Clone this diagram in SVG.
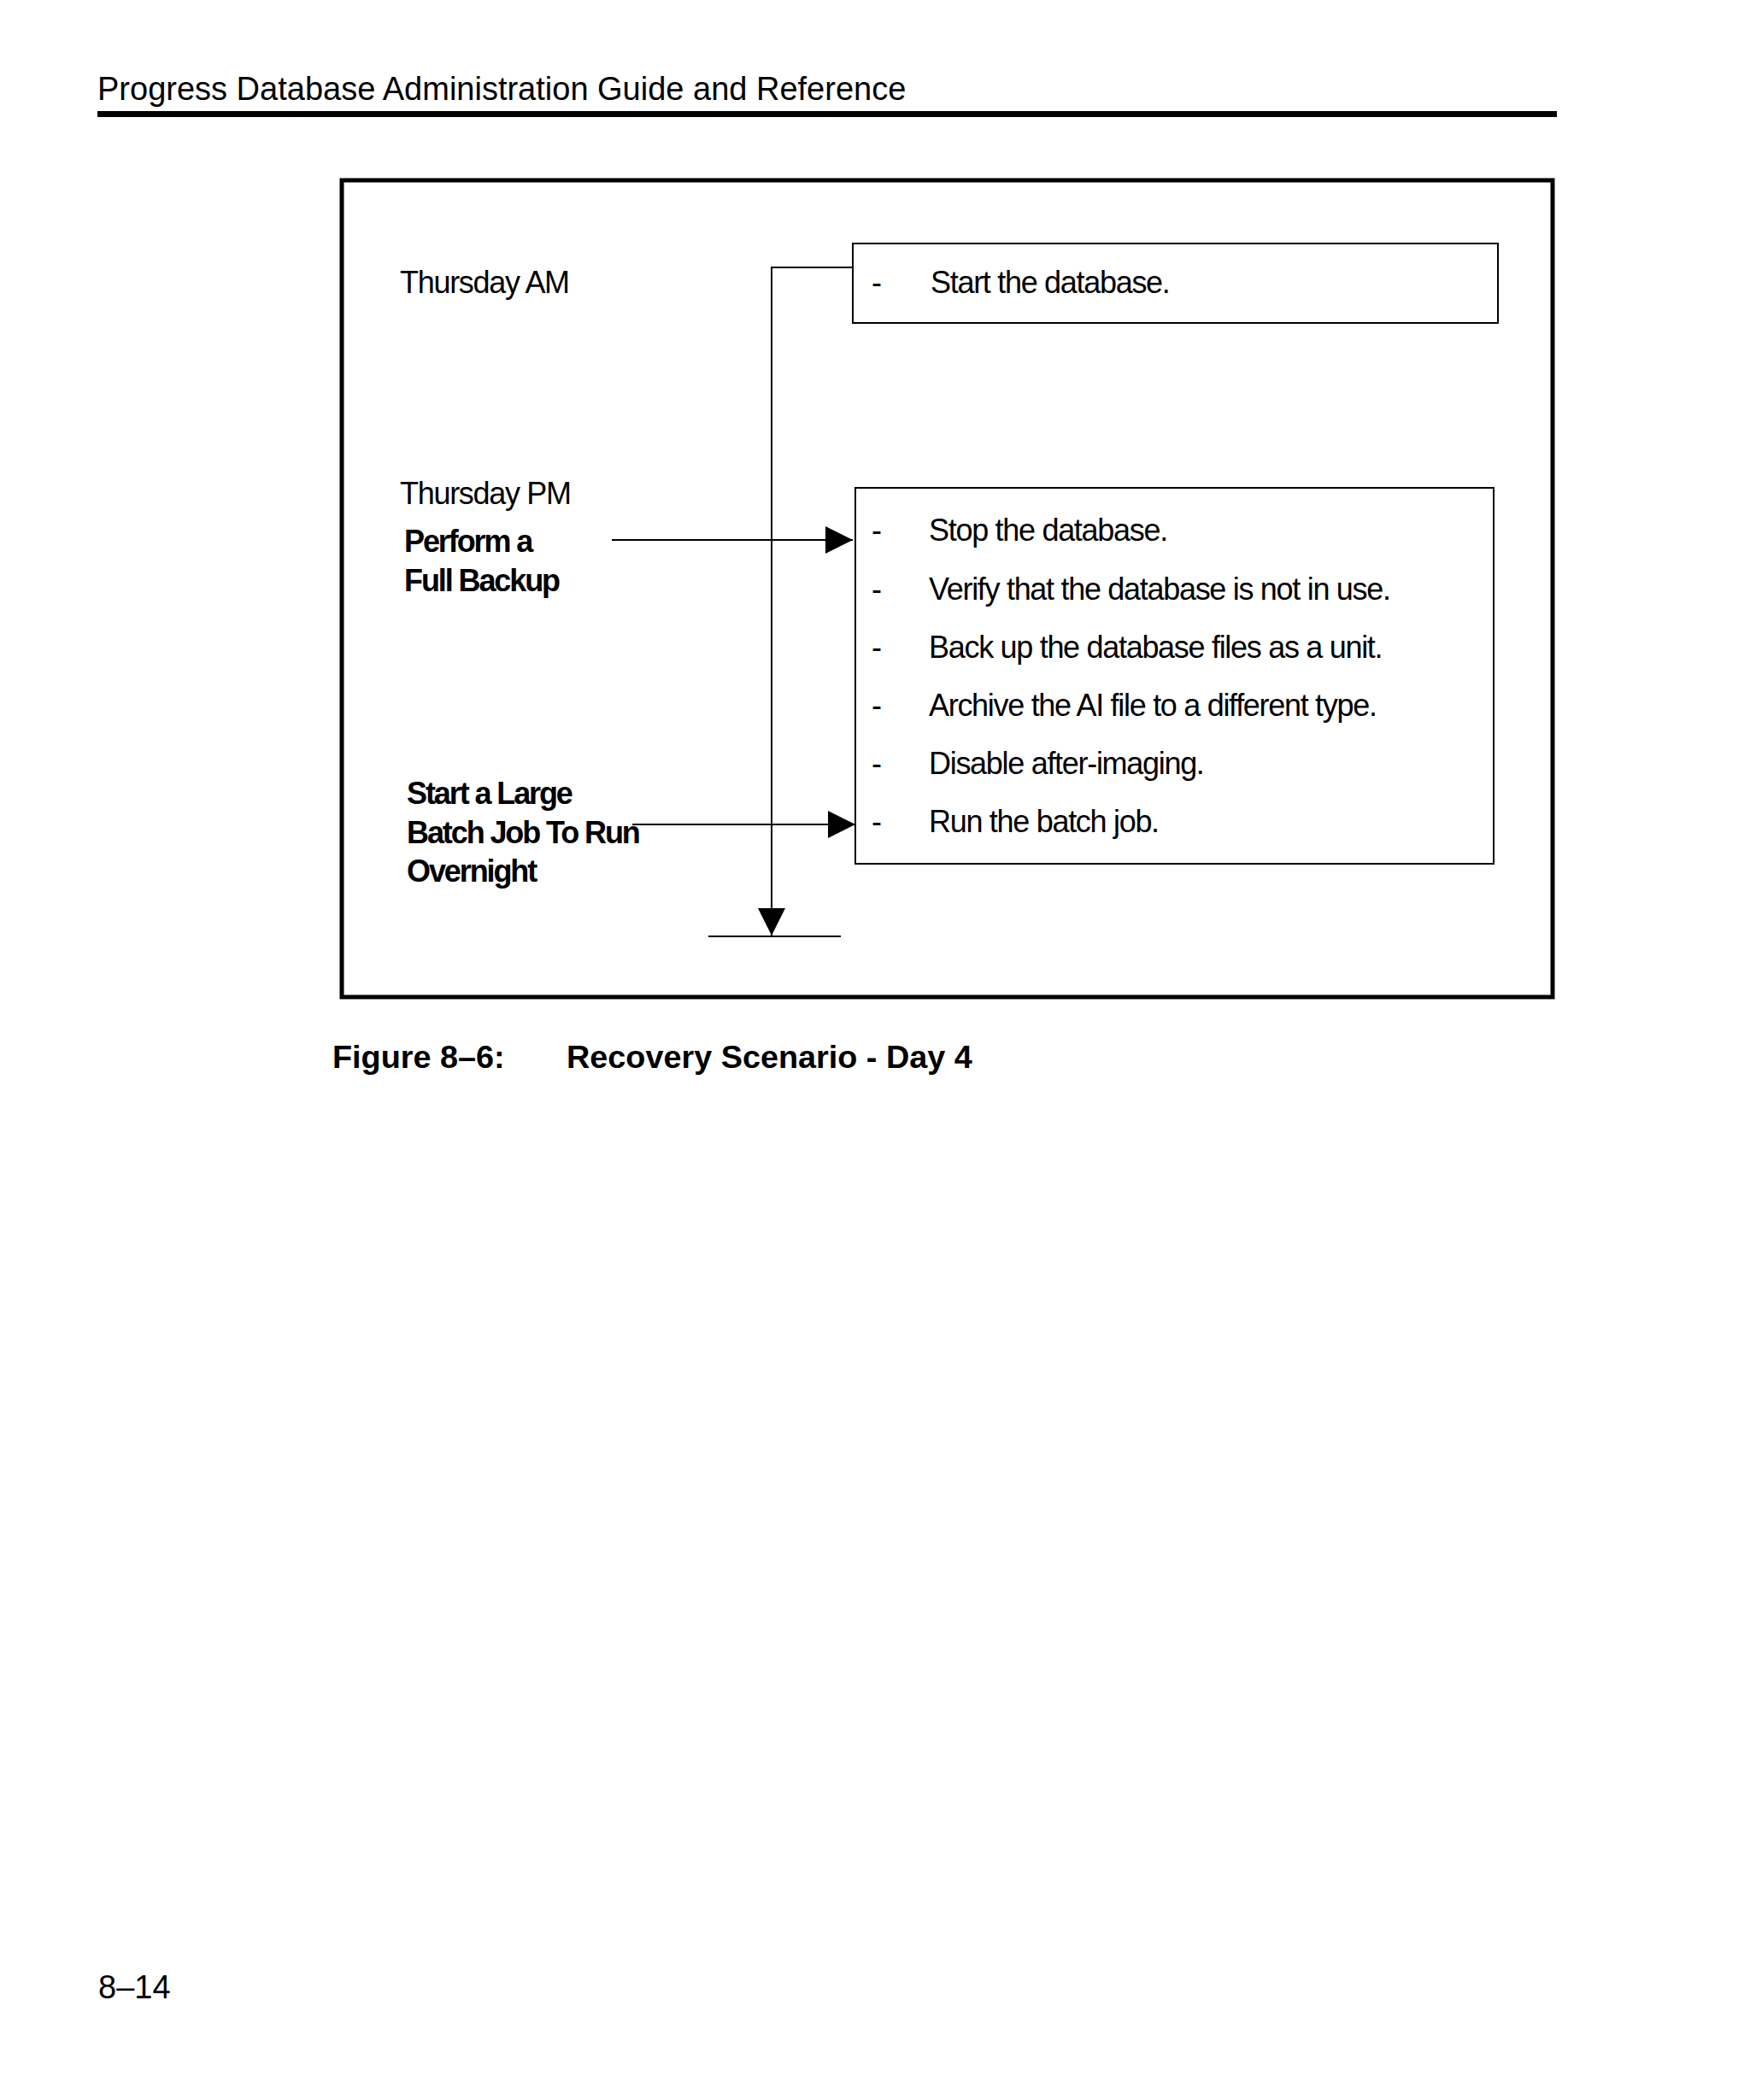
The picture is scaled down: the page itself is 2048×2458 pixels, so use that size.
<svg xmlns="http://www.w3.org/2000/svg" width="2048" height="2458" viewBox="0 0 2048 2458">
<style>
  .hdr{font-family:"Liberation Sans",Arial,sans-serif;font-size:38px;fill:#000}
  .cap{font-family:"Liberation Sans",Arial,sans-serif;font-size:37.8px;font-weight:bold;fill:#000}
  .lbl{font-family:"Liberation Sans",Arial,sans-serif;font-size:36px;letter-spacing:-1.3px;fill:#000}
  .blbl{font-family:"Liberation Sans",Arial,sans-serif;font-size:36px;font-weight:bold;letter-spacing:-2.1px;fill:#000}
  .box{fill:none;stroke:#000;stroke-width:2}
  .con{fill:none;stroke:#000;stroke-width:2}
</style>
<defs>
  <marker id="arr" markerUnits="userSpaceOnUse" markerWidth="34" markerHeight="34" refX="32" refY="16" orient="auto">
    <path d="M0,0 L32,16 L0,32 z" fill="#000"/>
  </marker>
</defs>
<rect width="2048" height="2458" fill="#fff"/>
<g id="header">
  <text class="hdr" x="114" y="117">Progress Database Administration Guide and Reference</text>
  <rect x="114" y="130" width="1708" height="7" fill="#000"/>
</g>
<g id="frame">
  <rect x="400" y="211" width="1417" height="956" fill="none" stroke="#000" stroke-width="5"/>
</g>
<g id="labels">
  <text class="lbl" x="468" y="343">Thursday AM</text>
  <text class="lbl" x="468" y="590">Thursday PM</text>
  <text class="blbl" x="473" y="646">Perform a</text>
  <text class="blbl" x="473" y="692">Full Backup</text>
  <text class="blbl" x="476" y="941">Start a Large</text>
  <text class="blbl" x="476" y="987">Batch Job To Run</text>
  <text class="blbl" x="476" y="1032">Overnight</text>
</g>
<g id="box-am">
  <rect class="box" x="998" y="285" width="755" height="93"/>
  <text class="lbl" x="1020" y="343">-</text>
  <text class="lbl" x="1089" y="343">Start the database.</text>
</g>
<g id="box-pm">
  <rect class="box" x="1001" y="571" width="747" height="440"/>
  <text class="lbl" x="1020" y="633">-</text>
  <text class="lbl" x="1087" y="633">Stop the database.</text>
  <text class="lbl" x="1020" y="702">-</text>
  <text class="lbl" x="1087" y="702">Verify that the database is not in use.</text>
  <text class="lbl" x="1020" y="770">-</text>
  <text class="lbl" x="1087" y="770">Back up the database files as a unit.</text>
  <text class="lbl" x="1020" y="838">-</text>
  <text class="lbl" x="1087" y="838">Archive the AI file to a different type.</text>
  <text class="lbl" x="1020" y="906">-</text>
  <text class="lbl" x="1087" y="906">Disable after-imaging.</text>
  <text class="lbl" x="1020" y="974">-</text>
  <text class="lbl" x="1087" y="974">Run the batch job.</text>
</g>
<g id="connectors">
  <polyline class="con" points="998,313 903,313 903,1095" marker-end="url(#arr)"/>
  <line class="con" x1="829" y1="1096" x2="984" y2="1096"/>
  <line class="con" x1="716" y1="632" x2="998" y2="632" marker-end="url(#arr)"/>
  <line class="con" x1="740" y1="965" x2="1001" y2="965" marker-end="url(#arr)"/>
</g>
<g id="caption">
  <text class="cap" x="389" y="1250">Figure 8–6:</text>
  <text class="cap" x="663" y="1250">Recovery Scenario - Day 4</text>
</g>
<g id="footer">
  <text class="hdr" x="115" y="2339">8–14</text>
</g>
</svg>
